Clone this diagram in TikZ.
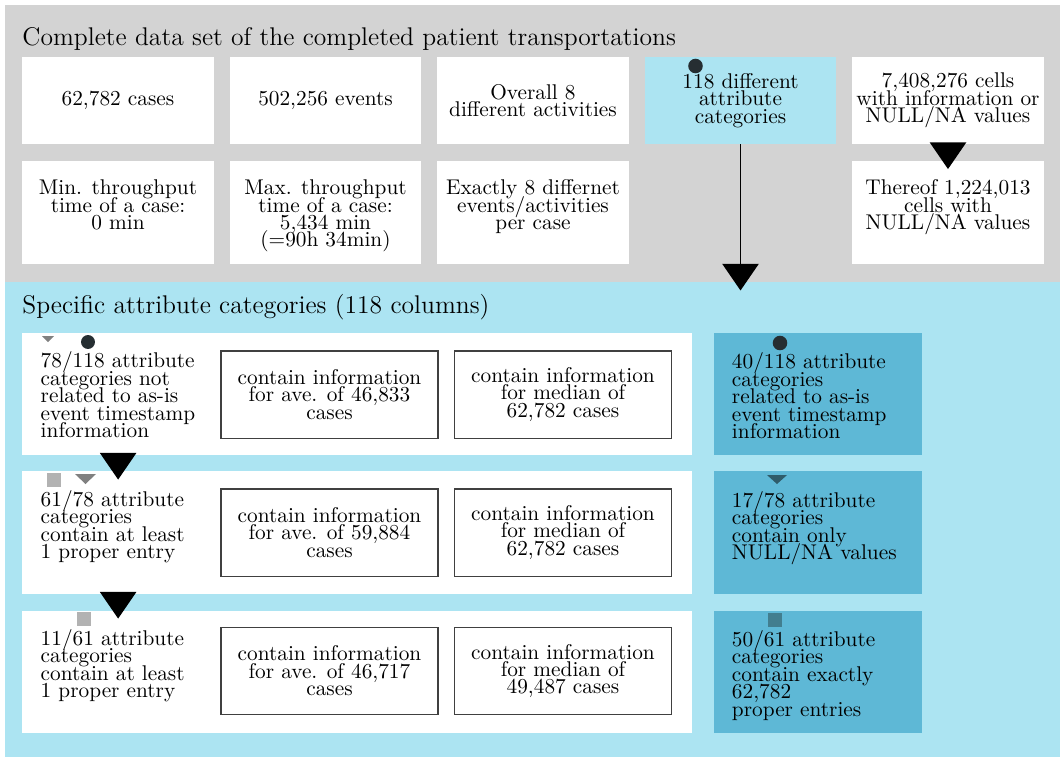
\documentclass[tikz,border=0pt]{standalone}
\usetikzlibrary{arrows.meta, positioning}

\definecolor{greybg}{RGB}{211,211,211}
\definecolor{bluebg}{RGB}{172,228,242}
\definecolor{bluedark}{RGB}{94,184,214}
\definecolor{ink}{RGB}{38,46,50}
\definecolor{midgrey}{RGB}{128,128,128}
\definecolor{lightgrey}{RGB}{178,178,178}
\definecolor{tealdark}{RGB}{47,92,106}
\definecolor{tealmid}{RGB}{66,126,143}

% tight lines inside the boxes
\newcommand{\boxtext}{\fontsize{10}{8.2}\selectfont\setlength{\lineskiplimit}{-10pt}\setlength{\lineskip}{0pt}}

\begin{document}
\begin{tikzpicture}[
        x=0.0165cm, y=-0.0165cm, % 1 unit = 1 px of the layout
        panel/.style={anchor=north west, inner sep=0pt, minimum width=17.41cm},
        heading/.style={inner sep=0pt, anchor=base west, font=\large},
        cell/.style={fill=white, inner sep=0pt, minimum width=3.152cm, minimum height=1.436cm, align=center, font=\boxtext},
        tallcell/.style={cell, minimum height=1.70cm},
        rowbox/.style={fill=white, inner sep=0pt, minimum width=11.06cm, minimum height=2.013cm},
        info/.style={draw=black!75, line width=0.5pt, fill=white, inner sep=0pt, minimum width=3.58cm, minimum height=1.436cm, align=center, font=\boxtext},
        side/.style={fill=bluedark, inner sep=0pt, minimum width=3.432cm, minimum height=2.013cm},
        txt/.style={inner sep=0pt, align=left, font=\boxtext},
        bigarrow/.style={-{Triangle[length=0.44cm, width=0.6cm]}, line width=0.6pt, draw=black, shorten >=-0.14cm},
    ]

    \useasboundingbox (0,0) rectangle (1060,756);

    % panels
    \node[panel, fill=greybg, minimum height=4.57cm] (complete) at (5,5) {};
    \node[panel, fill=bluebg, minimum height=7.82cm] (specific) at (5,282) {};
    \node[heading] (completeT) at (22,45) {Complete data set of the completed patient transportations};
    \node[heading] (specificT) at (22,313) {Specific attribute categories (118 columns)};

    % complete data set
    \node[cell] (cases) at (118,100.5) {62,782 cases};
    \node[cell] (events) at (325.5,100.5) {502,256 events};
    \node[cell] (activities) at (533,100.5) {Overall 8\\different activities};
    \node[cell, fill=bluebg] (attrcat) at (740.5,100.5) {118 different\\attribute\\categories};
    \node[cell] (cells) at (948,100.5) {7,408,276 cells\\with information or\\NULL/NA values};

    \node[tallcell] (mintime) at (118,212.5) {};
    \node[tallcell] (maxtime) at (325.5,212.5) {};
    \node[tallcell] (percase) at (533,212.5) {};
    \node[tallcell] (nullcells) at (948,212.5) {};
    \node[txt, align=center, anchor=north] (mintimeT) at ([yshift=-0.31cm]mintime.north) {Min. throughput\\time of a case:\\0 min};
    \node[txt, align=center, anchor=north] (maxtimeT) at ([yshift=-0.31cm]maxtime.north) {Max. throughput\\time of a case:\\5,434 min\\(=90h 34min)};
    \node[txt, align=center, anchor=north] (percaseT) at ([yshift=-0.31cm]percase.north) {Exactly 8 differnet\\events/activities\\per case};
    \node[txt, align=center, anchor=north] (nullcellsT) at ([yshift=-0.31cm]nullcells.north) {Thereof 1,224,013\\cells with\\NULL/NA values};

    % specific attribute categories
    \node[rowbox] (rowA) at (357,394) {};
    \node[rowbox] (rowB) at (357,532.5) {};
    \node[rowbox] (rowC) at (357,671.5) {};
    \node[txt, anchor=north west] (rowAT) at ([shift={(19,19)}]rowA.north west) {78/118 attribute\\categories not\\related to as-is\\event timestamp\\information};
    \node[txt, anchor=north west] (rowBT) at ([shift={(19,19)}]rowB.north west) {61/78 attribute\\categories\\contain at least\\1 proper entry};
    \node[txt, anchor=north west] (rowCT) at ([shift={(19,19)}]rowC.north west) {11/61 attribute\\categories\\contain at least\\1 proper entry};

    \node[info] (aveA) at (329.5,394.5) {contain information\\for ave. of 46,833\\cases};
    \node[info] (medA) at (563,394.5) {contain information\\for median of\\62,782 cases};
    \node[info] (aveB) at (329.5,532.5) {contain information\\for ave. of 59,884\\cases};
    \node[info] (medB) at (563,532.5) {contain information\\for median of\\62,782 cases};
    \node[info] (aveC) at (329.5,671) {contain information\\for ave. of 46,717\\cases};
    \node[info] (medC) at (563,671) {contain information\\for median of\\49,487 cases};

    \node[side] (tsA) at (818,394) {};
    \node[side] (tsB) at (818,532.5) {};
    \node[side] (tsC) at (818,671.5) {};
    \node[txt, anchor=north west] (tsAT) at ([shift={(18,20)}]tsA.north west) {40/118 attribute\\categories\\related to as-is\\event timestamp\\information};
    \node[txt, anchor=north west] (tsBT) at ([shift={(18,20)}]tsB.north west) {17/78 attribute\\categories\\contain only\\NULL/NA values};
    \node[txt, anchor=north west] (tsCT) at ([shift={(18,20)}]tsC.north west) {50/61 attribute\\categories\\contain exactly\\62,782\\proper entries};

    % arrows
    \draw[bigarrow] (attrcat.south) -- (attrcat |- specific.north);
    \draw[bigarrow] (cells.south) -- (nullcells.north);
    \draw[bigarrow] ([xshift=-3.94cm]rowA.south) -- ([xshift=-3.94cm]rowB.north);
    \draw[bigarrow] ([xshift=-3.94cm]rowB.south) -- ([xshift=-3.94cm]rowC.north);

    % markers
    \fill[ink] (695.5,66) circle [radius=0.12cm];
    \fill[midgrey] (42,336) -- (54,336) -- (48,342) -- cycle;
    \fill[ink] (88,342) circle [radius=0.115cm];
    \fill[ink] (780,343) circle [radius=0.12cm];
    \fill[lightgrey] (47,473) rectangle (61,487);
    \fill[midgrey] (75,474) -- (96,474) -- (85.5,484) -- cycle;
    \fill[tealdark] (767,475) -- (787,475) -- (777,484) -- cycle;
    \fill[lightgrey] (76.5,612) rectangle (90.5,626);
    \fill[tealmid] (768,613) rectangle (782,627);
\end{tikzpicture}
\end{document}
